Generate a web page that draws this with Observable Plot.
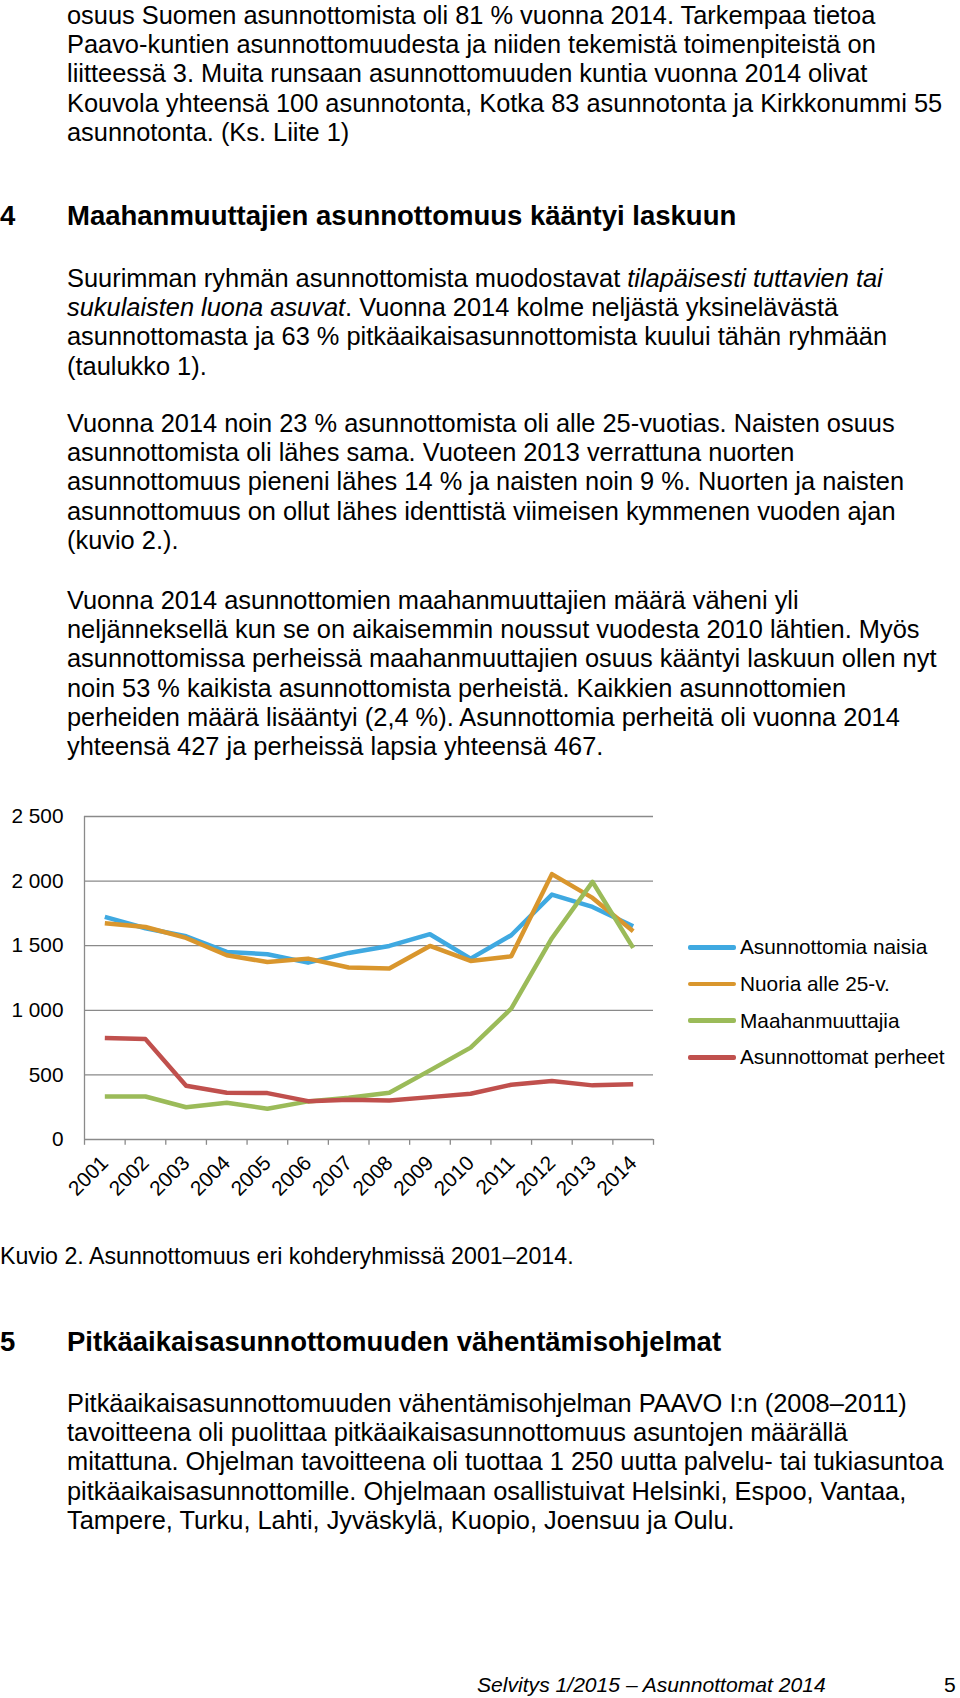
<!DOCTYPE html>
<html><head><meta charset="utf-8">
<script src="https://cdn.jsdelivr.net/npm/d3@7"></script>
<script src="https://cdn.jsdelivr.net/npm/@observablehq/plot@0.6"></script>
<style>
html,body{margin:0;padding:0;background:#fff;}
body{width:960px;height:1698px;position:relative;overflow:hidden;font-family:"Liberation Sans",Arial,sans-serif;color:#000;}
.p{position:absolute;left:67px;font-size:25.4px;line-height:29.2px;}
.p div{height:29.2px;white-space:pre;}
.h{position:absolute;font-size:27.5px;font-weight:bold;line-height:32px;white-space:pre;}
.cap{position:absolute;left:0;font-size:23.2px;line-height:28px;white-space:pre;}
.foot{position:absolute;font-size:21.1px;line-height:26px;white-space:pre;}
#chart{position:absolute;left:0;top:790px;}
#legend{position:absolute;left:688px;top:929px;font-size:20.8px;}
#legend .it{height:36.7px;display:flex;align-items:center;white-space:pre;}
#legend .sw{width:48px;height:4.5px;border-radius:2px;margin-right:4px;}
</style>
</head><body>
<div class="p" style="top:1px">
<div>osuus Suomen asunnottomista oli 81 % vuonna 2014. Tarkempaa tietoa</div>
<div>Paavo-kuntien asunnottomuudesta ja niiden tekemistä toimenpiteistä on</div>
<div>liitteessä 3. Muita runsaan asunnottomuuden kuntia vuonna 2014 olivat</div>
<div>Kouvola yhteensä 100 asunnotonta, Kotka 83 asunnotonta ja Kirkkonummi 55</div>
<div>asunnotonta. (Ks. Liite 1)</div>
</div>
<div class="h" style="top:200px;left:0">4</div>
<div class="h" style="top:200px;left:67px">Maahanmuuttajien asunnottomuus kääntyi laskuun</div>
<div class="p" style="top:264px">
<div><span>Suurimman ryhmän asunnottomista muodostavat </span><span style="font-style:italic">tilapäisesti tuttavien tai</span></div>
<div><span style="font-style:italic">sukulaisten luona asuvat</span><span>. Vuonna 2014 kolme neljästä yksinelävästä</span></div>
<div>asunnottomasta ja 63 % pitkäaikaisasunnottomista kuului tähän ryhmään</div>
<div>(taulukko 1).</div>
</div>
<div class="p" style="top:409px">
<div>Vuonna 2014 noin 23 % asunnottomista oli alle 25-vuotias. Naisten osuus</div>
<div>asunnottomista oli lähes sama. Vuoteen 2013 verrattuna nuorten</div>
<div>asunnottomuus pieneni lähes 14 % ja naisten noin 9 %. Nuorten ja naisten</div>
<div>asunnottomuus on ollut lähes identtistä viimeisen kymmenen vuoden ajan</div>
<div>(kuvio 2.).</div>
</div>
<div class="p" style="top:586px">
<div>Vuonna 2014 asunnottomien maahanmuuttajien määrä väheni yli</div>
<div>neljänneksellä kun se on aikaisemmin noussut vuodesta 2010 lähtien. Myös</div>
<div>asunnottomissa perheissä maahanmuuttajien osuus kääntyi laskuun ollen nyt</div>
<div>noin 53 % kaikista asunnottomista perheistä. Kaikkien asunnottomien</div>
<div>perheiden määrä lisääntyi (2,4 %). Asunnottomia perheitä oli vuonna 2014</div>
<div>yhteensä 427 ja perheissä lapsia yhteensä 467.</div>
</div>
<div id="chart"></div>
<div id="legend"></div>
<div class="cap" style="top:1242px">Kuvio 2. Asunnottomuus eri kohderyhmissä 2001–2014.</div>
<div class="h" style="top:1326px;left:0">5</div>
<div class="h" style="top:1326px;left:67px">Pitkäaikaisasunnottomuuden vähentämisohjelmat</div>
<div class="p" style="top:1389px">
<div>Pitkäaikaisasunnottomuuden vähentämisohjelman PAAVO I:n (2008–2011)</div>
<div>tavoitteena oli puolittaa pitkäaikaisasunnottomuus asuntojen määrällä</div>
<div>mitattuna. Ohjelman tavoitteena oli tuottaa 1 250 uutta palvelu- tai tukiasuntoa</div>
<div>pitkäaikaisasunnottomille. Ohjelmaan osallistuivat Helsinki, Espoo, Vantaa,</div>
<div>Tampere, Turku, Lahti, Jyväskylä, Kuopio, Joensuu ja Oulu.</div>
</div>
<div class="foot" style="top:1672px;left:477px;font-style:italic">Selvitys 1/2015 – Asunnottomat 2014</div>
<div class="foot" style="top:1672px;left:944px">5</div>
<script>
const years = [2001,2002,2003,2004,2005,2006,2007,2008,2009,2010,2011,2012,2013,2014];
const naisia = [1723,1635,1573,1452,1434,1369,1444,1498,1589,1400,1581,1896,1800,1651];
const nuoria = [1674,1645,1560,1426,1374,1400,1331,1323,1498,1382,1418,2054,1870,1612];
const maahanmuuttajia = [333,333,250,284,238,295,323,362,535,711,1013,1558,1994,1483];
const perheet = [785,777,416,362,359,297,308,302,328,354,424,452,419,427];
const seriesNames = ["Asunnottomia naisia","Nuoria alle 25-v.","Maahanmuuttajia","Asunnottomat perheet"];
const seriesColors = ["#3FA9E1","#D9962D","#9BBB59","#C0504D"];
const yTicks = [0,500,1000,1500,2000,2500];

const seriesValues = [naisia, nuoria, maahanmuuttajia, perheet];
const rows = [];
seriesNames.forEach((name, i) => years.forEach((yr, j) => rows.push({series: name, year: yr, value: seriesValues[i][j]})));
const edges = [years[0] - 0.5, ...years.map(y => y + 0.5)];
const fmt = d => d3.format(",")(d).replace(/,/g, " ");
const grey = "#8A8A8A";

const chart = Plot.plot({
  width: 960, height: 425,
  marginTop: 26, marginBottom: 76, marginLeft: 84, marginRight: 307,
  style: {fontFamily: "Liberation Sans, Arial, sans-serif", fontSize: "20.8px", color: "#000", background: "transparent", overflow: "visible"},
  x: {type: "linear", domain: [edges[0], edges[edges.length - 1]], axis: null},
  y: {domain: [0, 2500], axis: null},
  color: {domain: seriesNames, range: seriesColors},
  marks: [
    Plot.ruleY(yTicks.filter(d => d > 0), {stroke: grey, strokeWidth: 1.3}),
    Plot.ruleX([edges[0]], {stroke: grey, strokeWidth: 1.3}),
    Plot.ruleY([0], {stroke: grey, strokeWidth: 1.3}),
    Plot.ruleX(edges, {y1: 0, y2: -45, stroke: grey, strokeWidth: 1.3}),
    Plot.axisY({ticks: yTicks, tickSize: 0, tickPadding: 21, tickFormat: fmt, label: null, fontSize: 20.8, fill: "#000"}),
    Plot.text(years, {x: d => d, y: 0, text: d => String(d), rotate: -45, textAnchor: "end", lineAnchor: "middle", dy: 20, dx: 0, fontSize: 20.8, fill: "#000"}),
    Plot.line(rows, {x: "year", y: "value", z: "series", stroke: "series", strokeWidth: 4.5, strokeLinejoin: "round", strokeLinecap: "butt"})
  ]
});
document.getElementById("chart").appendChild(chart);

const legend = document.getElementById("legend");
seriesNames.forEach((name, i) => {
  const it = document.createElement("div"); it.className = "it";
  const sw = document.createElement("div"); sw.className = "sw"; sw.style.background = seriesColors[i];
  const tx = document.createElement("span"); tx.textContent = name;
  it.appendChild(sw); it.appendChild(tx); legend.appendChild(it);
});
</script>
</body></html>
